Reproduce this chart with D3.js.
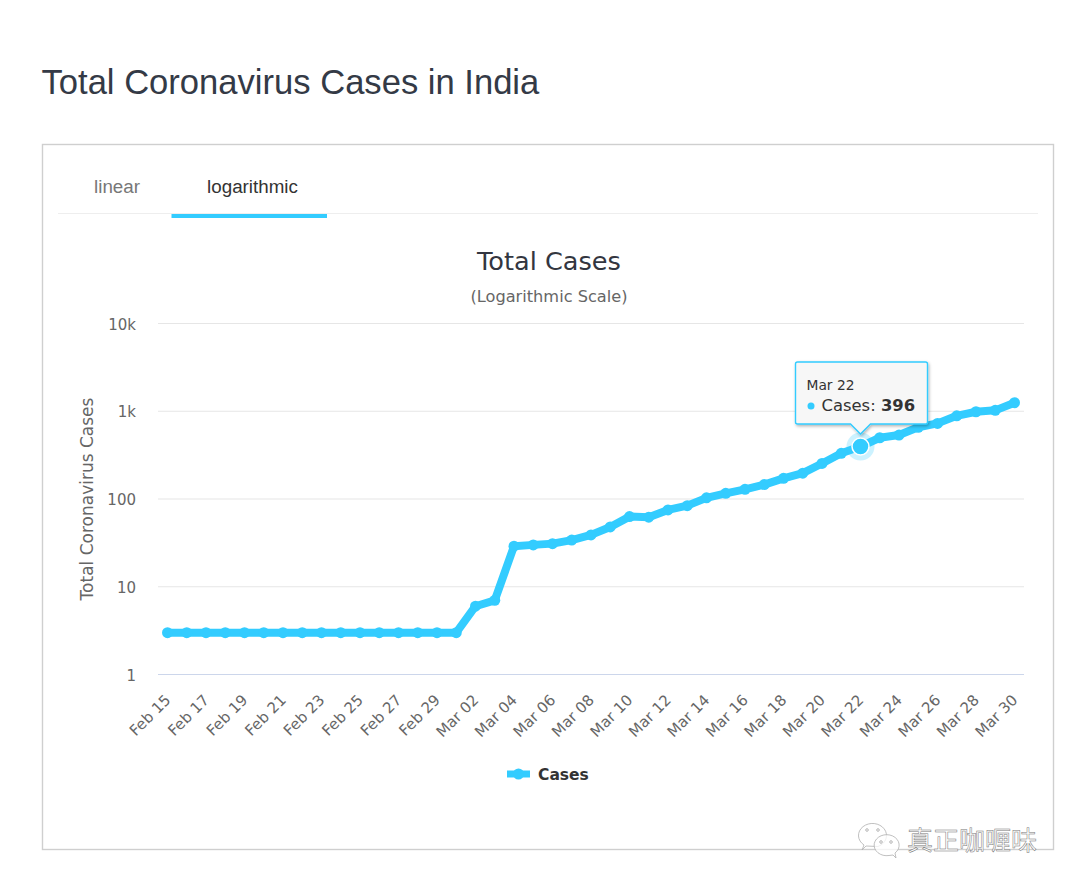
<!DOCTYPE html>
<html><head><meta charset="utf-8">
<script src="https://cdn.jsdelivr.net/npm/d3@7/dist/d3.min.js"></script>
<style>html,body{margin:0;padding:0;background:#fff}svg{display:block}</style>
</head><body><svg id="c" width="1070" height="888"></svg>
<script>
const categories = ["Feb 15","Feb 16","Feb 17","Feb 18","Feb 19","Feb 20","Feb 21","Feb 22","Feb 23","Feb 24","Feb 25","Feb 26","Feb 27","Feb 28","Feb 29","Mar 01","Mar 02","Mar 03","Mar 04","Mar 05","Mar 06","Mar 07","Mar 08","Mar 09","Mar 10","Mar 11","Mar 12","Mar 13","Mar 14","Mar 15","Mar 16","Mar 17","Mar 18","Mar 19","Mar 20","Mar 21","Mar 22","Mar 23","Mar 24","Mar 25","Mar 26","Mar 27","Mar 28","Mar 29","Mar 30"];
const cases = [3,3,3,3,3,3,3,3,3,3,3,3,3,3,3,3,6,7,29,30,31,34,39,48,63,62,75,84,103,116,129,146,172,197,254,332,396,499,536,657,727,887,987,1024,1251];
const xTickLabels = categories.filter((d,i)=>i%2===0);
const yTicks = [1,10,100,1000,10000];
const yTickLabels = ["1","10","100","1k","10k"];
const tabs = ["linear","logarithmic"];
const highlighted = "Mar 22";

const SANS='"DejaVu Sans",sans-serif', HELV='"Liberation Sans",Arial,sans-serif';
const BLUE='#33ccff';
const svg=d3.select('#c');

svg.append('text').attr('x',41.5).attr('y',93.5).attr('font-family',HELV).attr('font-size',34.6).attr('fill','#343a46').text('Total Coronavirus Cases in India');
svg.append('rect').attr('x',42.5).attr('y',144.5).attr('width',1011).attr('height',705).attr('fill','#fff').attr('stroke','#cfcfcf').attr('stroke-width',1.4);

// tabs
svg.append('line').attr('x1',58).attr('x2',1038).attr('y1',213.5).attr('y2',213.5).attr('stroke','#eeeeee');
svg.append('rect').attr('x',171.5).attr('y',214).attr('width',155.5).attr('height',4).attr('fill',BLUE);
svg.append('text').attr('x',117).attr('y',192.5).attr('text-anchor','middle').attr('font-family',HELV).attr('font-size',18.8).attr('fill','#777').text(tabs[0]);
svg.append('text').attr('x',252.5).attr('y',192.5).attr('text-anchor','middle').attr('font-family',HELV).attr('font-size',18.8).attr('fill','#333').text(tabs[1]);

// titles
svg.append('text').attr('x',549).attr('y',270).attr('text-anchor','middle').attr('font-family',SANS).attr('font-size',25.6).attr('fill','#333640').text('Total Cases');
svg.append('text').attr('x',549).attr('y',301.5).attr('text-anchor','middle').attr('font-family',SANS).attr('font-size',16.2).attr('fill','#666').text('(Logarithmic Scale)');

// scales
const x=d3.scalePoint().domain(categories).range([167.5,1014.5]);
const y=d3.scaleLog().domain([1,10000]).range([674.5,323.5]);

// y axis
const yAxis=d3.axisLeft(y).tickValues(yTicks).tickSize(0).tickPadding(0).tickFormat((d,i)=>yTickLabels[i]);
const gy=svg.append('g').attr('transform','translate(136,0)').call(yAxis);
gy.select('.domain').remove();
gy.selectAll('text').attr('font-family',SANS).attr('font-size',15).attr('fill','#666').attr('dy','0.38em');
svg.append('g').selectAll('line').data(yTicks).join('line')
  .attr('x1',158).attr('x2',1024).attr('y1',d=>y(d)).attr('y2',d=>y(d))
  .attr('stroke',d=>d===1?'#ccd6eb':'#e6e6e6').attr('stroke-width',1.2);
svg.append('text').attr('transform','translate(92.5,499) rotate(-90)').attr('text-anchor','middle').attr('font-family',SANS).attr('font-size',17).attr('fill','#666').text('Total Coronavirus Cases');

// x axis
const xAxis=d3.axisBottom(x).tickValues(xTickLabels).tickSize(0).tickPadding(0);
const gx=svg.append('g').attr('transform','translate(0,675)').call(xAxis);
gx.select('.domain').remove();
gx.selectAll('text').attr('font-family',SANS).attr('font-size',15).attr('fill','#666')
  .attr('text-anchor','end').attr('dy',0).attr('y',0)
  .attr('transform','translate(3.5,26) rotate(-45)');

// series
const line=d3.line().x((d,i)=>x(categories[i])).y(d=>y(d));
svg.append('path').datum(cases).attr('d',line).attr('fill','none').attr('stroke',BLUE).attr('stroke-width',8).attr('stroke-linejoin','round');
svg.append('g').selectAll('circle').data(cases).join('circle')
  .attr('cx',(d,i)=>x(categories[i])).attr('cy',d=>y(d)).attr('r',5.5).attr('fill',BLUE);

// hover marker
const hi=categories.indexOf(highlighted), hx=x(highlighted), hy=y(cases[hi]);
svg.append('circle').attr('cx',hx).attr('cy',hy).attr('r',14).attr('fill',BLUE).attr('opacity',0.25);
svg.append('circle').attr('cx',hx).attr('cy',hy).attr('r',8.5).attr('fill',BLUE).attr('stroke','#fff').attr('stroke-width',1.5);

// tooltip
const defs=svg.append('defs');
const f=defs.append('filter').attr('id','sh').attr('x','-10%').attr('y','-10%').attr('width','125%').attr('height','135%');
f.append('feDropShadow').attr('dx',1).attr('dy',1.5).attr('stdDeviation',1.5).attr('flood-color','#000').attr('flood-opacity',0.3);
const tx0=hx-65, tx1=hx+67, ty0=362, ty1=424;
svg.append('path').attr('filter','url(#sh)')
  .attr('d',`M${tx0+2},${ty0}H${tx1-2}Q${tx1},${ty0} ${tx1},${ty0+2}V${ty1-2}Q${tx1},${ty1} ${tx1-2},${ty1}H${hx+10}L${hx},${ty1+10}L${hx-10},${ty1}H${tx0+2}Q${tx0},${ty1} ${tx0},${ty1-2}V${ty0+2}Q${tx0},${ty0} ${tx0+2},${ty0}Z`)
  .attr('fill','#f7f7f7').attr('stroke',BLUE).attr('stroke-width',1.4);
svg.append('text').attr('x',tx0+11).attr('y',389.5).attr('font-family',SANS).attr('font-size',13.8).attr('fill','#333').text(highlighted);
svg.append('circle').attr('cx',tx0+15.5).attr('cy',406).attr('r',3.5).attr('fill',BLUE);
const tt=svg.append('text').attr('x',tx0+26).attr('y',411).attr('font-family',SANS).attr('font-size',16.4).attr('fill','#333');
tt.append('tspan').text('Cases: ');
tt.append('tspan').attr('font-weight','bold').text(cases[hi]);

// legend
svg.append('line').attr('x1',507).attr('x2',530).attr('y1',774).attr('y2',774).attr('stroke',BLUE).attr('stroke-width',7);
svg.append('circle').attr('cx',518.5).attr('cy',774).attr('r',5.5).attr('fill',BLUE);
svg.append('text').attr('x',538).attr('y',780).attr('font-family',SANS).attr('font-weight','bold').attr('font-size',15.5).attr('fill','#333').text('Cases');

// watermark
const wm=svg.append('g').attr('fill','#fff').attr('fill-opacity',0.75).attr('stroke','#b0b0b0').attr('stroke-width',0.8);
wm.append('path').attr('d','M866,846 L862,850 L864,845 A14,12 0 1 1 878,846.5 Z');
wm.append('path').attr('d','M893,855 L896,858 L895,853 A12.5,10.5 0 1 0 889,855.5 Z');
const eyes=svg.append('g').attr('fill','#fff').attr('stroke','#999').attr('stroke-width',0.7);
[[867,830],[878,830],[881,842],[891,842]].forEach(p=>eyes.append('circle').attr('cx',p[0]).attr('cy',p[1]).attr('r',1.3));
svg.append('text').attr('x',907).attr('y',850).attr('font-family','"Noto Sans CJK SC"').attr('font-size',26).attr('fill','#fff').attr('stroke','#777').attr('stroke-width',0.5).text('真正咖喱味');
</script></body></html>
